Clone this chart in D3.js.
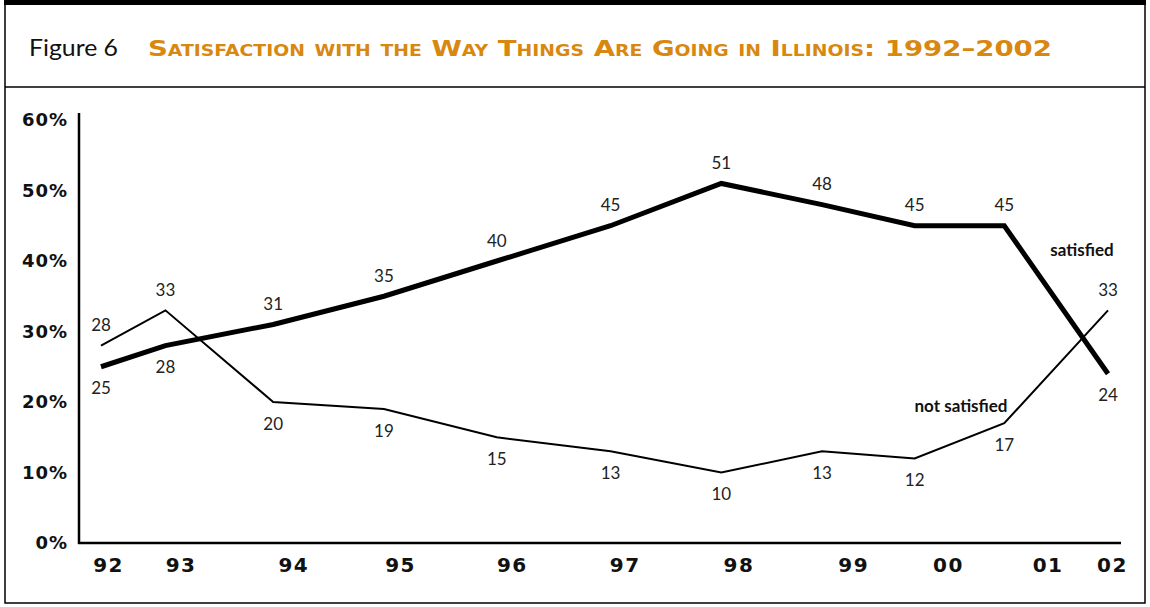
<!DOCTYPE html>
<html>
<head>
<meta charset="utf-8">
<script src="https://cdn.jsdelivr.net/npm/d3@7"></script>
<style>
  html, body { margin: 0; padding: 0; background: #fff; }
  svg { display: block; }
</style>
</head>
<body>
<div id="chart"></div>
<script>
// survey years (axis labels) and when each poll sits on the time line
const years = ['92', '93', '94', '95', '96', '97', '98', '99', '00', '01', '02'];
const pollTime = [1992.0, 1992.64, 1993.71, 1994.81, 1995.93, 1997.06, 1998.16, 1999.16, 2000.08, 2000.97, 2002.0];
const labelTime = [1992.07, 1992.79, 1993.91, 1994.97, 1996.08, 1997.2, 1998.33, 1999.47, 2000.41, 2001.4, 2002.04];

const satisfied = [25, 28, 31, 35, 40, 45, 51, 48, 45, 45, 24];
const notSatisfied = [28, 33, 20, 19, 15, 13, 10, 13, 12, 17, 33];

const yTicks = [0, 10, 20, 30, 40, 50, 60];

const W = 1150, H = 607;

const svg = d3.select('#chart').append('svg')
    .attr('width', W)
    .attr('height', H);

// frame
svg.append('rect')
    .attr('x', 5).attr('y', 3)
    .attr('width', 1140).attr('height', 600)
    .attr('fill', 'none')
    .attr('stroke', '#000')
    .attr('stroke-width', 1.5);
svg.append('rect')
    .attr('x', 4).attr('y', 0)
    .attr('width', 1142).attr('height', 5)
    .attr('fill', '#000');
svg.append('line')
    .attr('x1', 5).attr('x2', 1145)
    .attr('y1', 87).attr('y2', 87)
    .attr('stroke', '#000')
    .attr('stroke-width', 1.5);

// title
svg.append('text')
    .attr('x', 29).attr('y', 56)
    .attr('textLength', 89)
    .attr('lengthAdjust', 'spacingAndGlyphs')
    .style('font-family', 'Lato, "Open Sans", sans-serif')
    .style('font-size', '24px')
    .attr('fill', '#111')
    .text('Figure 6');
svg.append('text')
    .attr('x', 148).attr('y', 56)
    .attr('textLength', 904)
    .attr('lengthAdjust', 'spacingAndGlyphs')
    .style('font-family', '"DejaVu Sans", sans-serif')
    .style('font-weight', 'bold')
    .style('font-size', '22px')
    .style('font-variant', 'small-caps')
    .attr('fill', '#D8870F')
    .text('Satisfaction with the Way Things Are Going in Illinois: 1992\u20132002');

// scales
let x = d3.scaleLinear()
    .domain([1992, 2002])
    .range([101, 1108]);
let y = d3.scaleLinear()
    .domain([0, 60])
    .range([543, 120]);

const axisFont = '"DejaVu Sans", Verdana, sans-serif';

// y axis
let yAxis = d3.axisLeft(y)
    .tickValues(yTicks)
    .tickSize(0)
    .tickPadding(11)
    .tickFormat(d => d + '%');
let gy = svg.append('g')
    .attr('transform', 'translate(79,0)')
    .call(yAxis);
gy.select('.domain').remove();
gy.selectAll('text')
    .style('font-family', axisFont)
    .style('font-weight', 'bold')
    .style('font-size', '18px')
    .style('letter-spacing', '1px')
    .attr('fill', '#111');

svg.append('line')
    .attr('x1', 79).attr('x2', 79)
    .attr('y1', 113).attr('y2', y(0) + 1)
    .attr('stroke', '#000')
    .attr('stroke-width', 2.5);
svg.append('line')
    .attr('x1', 78).attr('x2', 1121)
    .attr('y1', y(0)).attr('y2', y(0))
    .attr('stroke', '#000')
    .attr('stroke-width', 2.5);

// x axis labels
let xAxis = d3.axisBottom(x)
    .tickValues(labelTime)
    .tickSize(0)
    .tickPadding(15)
    .tickFormat((d, i) => years[i]);
let gx = svg.append('g')
    .attr('transform', `translate(0,${y(0)})`)
    .call(xAxis);
gx.select('.domain').remove();
gx.selectAll('text')
    .style('font-family', axisFont)
    .style('font-weight', 'bold')
    .style('font-size', '20px')
    .style('letter-spacing', '1.5px')
    .attr('fill', '#111');

// lines
let line = d3.line()
    .x((d, i) => x(pollTime[i]))
    .y(d => y(d));

svg.append('path')
    .datum(notSatisfied)
    .attr('d', line)
    .attr('fill', 'none')
    .attr('stroke', '#000')
    .attr('stroke-width', 2);

svg.append('path')
    .datum(satisfied)
    .attr('d', line)
    .attr('fill', 'none')
    .attr('stroke', '#000')
    .attr('stroke-width', 5);

// value labels (-1 above the point, 1 below)
const satSide = [1, 1, -1, -1, -1, -1, -1, -1, -1, -1, 1];
const notSide = [-1, -1, 1, 1, 1, 1, 1, 1, 1, 1, -1];

const labelFont = 'Lato, "Open Sans", sans-serif';

function valueLabels(values, side) {
    svg.append('g').selectAll('text')
        .data(values)
        .join('text')
            .attr('x', (d, i) => x(pollTime[i]))
            .attr('y', (d, i) => y(d) + side[i] * 21)
            .attr('text-anchor', 'middle')
            .attr('dominant-baseline', 'central')
            .style('font-family', labelFont)
            .style('font-size', '17px')
            .attr('fill', '#222')
            .text(d => d);
}
valueLabels(satisfied, satSide);
valueLabels(notSatisfied, notSide);

// series names
svg.append('text')
    .attr('x', 1082).attr('y', 249)
    .attr('text-anchor', 'middle')
    .attr('dominant-baseline', 'central')
    .style('font-family', labelFont)
    .style('font-weight', 'bold')
    .style('font-size', '17px')
    .attr('fill', '#111')
    .text('satisfied');
svg.append('text')
    .attr('x', 961).attr('y', 405)
    .attr('text-anchor', 'middle')
    .attr('dominant-baseline', 'central')
    .style('font-family', labelFont)
    .style('font-weight', 'bold')
    .style('font-size', '17px')
    .attr('fill', '#111')
    .text('not satisfied');
</script>
</body>
</html>
